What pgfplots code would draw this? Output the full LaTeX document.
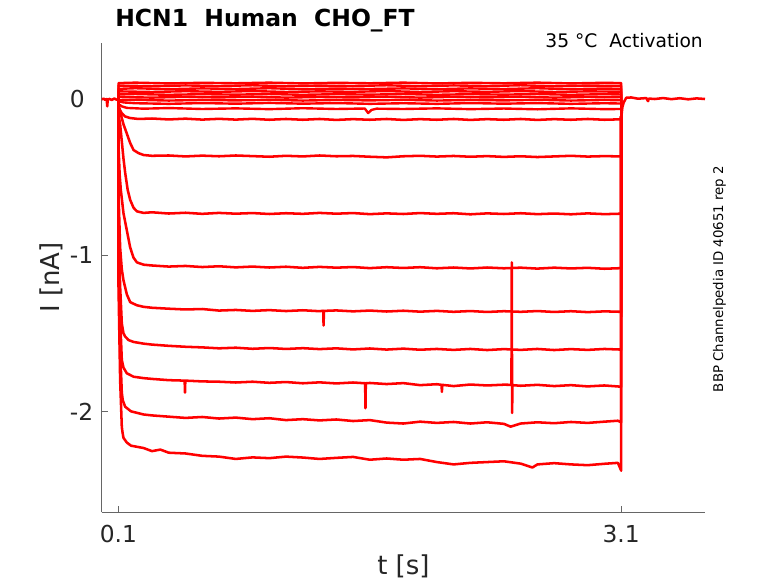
\documentclass[border=0pt]{standalone}
\usepackage{fontspec}
\setmainfont{DejaVu Sans}
\usepackage{pgfplots}
\pgfplotsset{compat=1.18}
\definecolor{axgray}{rgb}{0.4,0.4,0.4}
\definecolor{txtgray}{rgb}{0.15,0.15,0.15}
\begin{document}
\begin{tikzpicture}
\useasboundingbox (-76.275pt,-53.025pt) rectangle (507.225pt,384.225pt);
\begin{axis}[at={(0pt,0pt)}, anchor=south west, scale only axis,
 width=452.475pt, height=351.975pt,
 xmin=0, xmax=3.6, ymin=-2.647, ymax=0.361,
 axis x line*=bottom, axis y line*=left,
 axis line style={axgray, line width=0.6pt, -},
 tick align=inside, major tick length=4.7pt,
 tick style={axgray, line width=0.6pt},
 xtick={0.1,3.1}, xticklabels={0.1,3.1},
 ytick={-2,-1,0}, yticklabels={-2,-1,0},
 ticklabel style={font=\fontsize{17.5}{21}\selectfont, text=txtgray, inner sep=0pt},
 xticklabel style={anchor=base, yshift=-22.5pt},
 yticklabel style={anchor=west, xshift=-24pt},
 trace/.style={red, line width=1.9pt, line join=round},
 band/.style={red, line width=1.8pt, line join=round},
]
% baseline before step
\addplot[trace] coordinates {(0,0)(0.012,0.004)(0.02,-0.003)(0.03,0.002)(0.033,-0.045)(0.036,-0.004)(0.045,0.003)(0.06,-0.004)(0.075,0.005)(0.09,-0.003)(0.1,0)};
% tail after step
\addplot[trace] coordinates {(3.1003,-0.11)(3.103,-0.09)(3.107,-0.05)(3.115,-0.02)(3.13,0.01)(3.16,0.012)(3.2,0.004)(3.25,0.008)(3.26,-0.012)(3.265,0.005)(3.3,0.002)(3.35,0.008)(3.4,0.001)(3.45,0.007)(3.5,0)(3.55,0.006)(3.6,0.002)};
% upper band
\addplot[band] coordinates {(0.1,0)(0.1003,0.104)(0.2,0.107)(0.4,0.102)(0.6,0.106)(0.8,0.103)(1.0,0.107)(1.2,0.102)(1.4,0.106)(1.6,0.103)(1.8,0.107)(2.0,0.102)(2.2,0.106)(2.4,0.103)(2.6,0.107)(2.8,0.102)(3.0,0.106)(3.1,0.104)(3.1003,-0.11)};
\addplot[band] coordinates {(0.1,0)(0.1003,0.088)(0.3,0.084)(0.5,0.089)(0.7,0.085)(0.9,0.09)(1.1,0.084)(1.3,0.088)(1.5,0.085)(1.7,0.09)(1.9,0.084)(2.1,0.089)(2.3,0.085)(2.5,0.09)(2.7,0.084)(2.9,0.088)(3.1,0.086)(3.1003,-0.11)};
\addplot[band] coordinates {(0.1,0)(0.1003,0.067)(0.2,0.071)(0.4,0.065)(0.6,0.07)(0.8,0.066)(1.0,0.071)(1.2,0.065)(1.4,0.069)(1.6,0.066)(1.8,0.07)(2.0,0.065)(2.2,0.07)(2.4,0.066)(2.6,0.071)(2.8,0.065)(3.0,0.069)(3.1,0.067)(3.1003,-0.11)};
\addplot[band] coordinates {(0.1,0)(0.1003,0.051)(0.3,0.047)(0.5,0.052)(0.7,0.048)(0.9,0.053)(1.1,0.047)(1.3,0.051)(1.5,0.048)(1.7,0.053)(1.9,0.047)(2.1,0.052)(2.3,0.048)(2.5,0.053)(2.7,0.047)(2.9,0.051)(3.1,0.049)(3.1003,-0.11)};
\addplot[band] coordinates {(0.1,0)(0.1003,0.031)(0.2,0.034)(0.4,0.029)(0.6,0.033)(0.8,0.03)(1.0,0.034)(1.2,0.029)(1.4,0.033)(1.6,0.03)(1.8,0.034)(2.0,0.029)(2.2,0.033)(2.4,0.03)(2.6,0.034)(2.8,0.029)(3.0,0.033)(3.1,0.031)(3.1003,-0.11)};
\addplot[band] coordinates {(0.1,0)(0.1003,0.015)(0.3,0.011)(0.5,0.016)(0.7,0.012)(0.9,0.017)(1.1,0.011)(1.3,0.015)(1.5,0.012)(1.7,0.017)(1.9,0.011)(2.1,0.016)(2.3,0.012)(2.5,0.017)(2.7,0.011)(2.9,0.015)(3.1,0.013)(3.1003,-0.11)};
\addplot[band] coordinates {(0.1,0)(0.1003,-0.006)(0.2,-0.003)(0.4,-0.008)(0.6,-0.004)(0.8,-0.007)(1.0,-0.003)(1.2,-0.008)(1.4,-0.004)(1.6,-0.007)(1.8,-0.003)(2.0,-0.008)(2.2,-0.004)(2.4,-0.007)(2.6,-0.003)(2.8,-0.008)(3.0,-0.004)(3.1,-0.006)(3.1003,-0.11)};
\addplot[band] coordinates {(0.1,0)(0.1003,-0.012)(0.13,-0.02)(0.2,-0.025)(0.4,-0.029)(0.6,-0.024)(0.8,-0.028)(1.0,-0.023)(1.2,-0.028)(1.4,-0.024)(1.6,-0.029)(1.8,-0.025)(2.0,-0.029)(2.2,-0.024)(2.4,-0.028)(2.6,-0.024)(2.8,-0.029)(3.0,-0.025)(3.1,-0.027)(3.1003,-0.11)};
\addplot[band] coordinates {(0.1,0)(0.1003,-0.03)(0.12,-0.045)(0.15,-0.055)(0.25,-0.06)(0.4,-0.056)(0.6,-0.062)(0.8,-0.058)(1.0,-0.063)(1.2,-0.057)(1.4,-0.062)(1.57,-0.059)(1.59,-0.088)(1.61,-0.068)(1.64,-0.06)(1.8,-0.062)(2.0,-0.058)(2.2,-0.063)(2.4,-0.059)(2.6,-0.064)(2.8,-0.058)(3.0,-0.063)(3.1,-0.062)(3.1003,-0.11)};
\addplot[trace] coordinates {(0.1,0)(0.1003,-0.04)(0.11,-0.07)(0.12,-0.09)(0.14,-0.11)(0.17,-0.12)(0.22,-0.126)(0.3,-0.123)(0.4,-0.129)(0.5,-0.124)(0.6,-0.13)(0.7,-0.125)(0.8,-0.13)(0.9,-0.125)(1.0,-0.131)(1.1,-0.126)(1.2,-0.131)(1.3,-0.126)(1.4,-0.132)(1.5,-0.127)(1.6,-0.131)(1.7,-0.126)(1.8,-0.132)(1.9,-0.127)(2.0,-0.131)(2.1,-0.126)(2.2,-0.132)(2.3,-0.127)(2.4,-0.131)(2.5,-0.126)(2.6,-0.132)(2.7,-0.127)(2.8,-0.131)(2.9,-0.126)(3.0,-0.131)(3.1,-0.128)(3.1003,-0.11)};
% activating traces
\addplot[trace] coordinates {(0.1,0)(0.1003,-0.05)(0.11,-0.08)(0.13,-0.16)(0.15,-0.22)(0.17,-0.28)(0.19,-0.325)(0.22,-0.345)(0.25,-0.357)(0.3,-0.362)(0.4,-0.36)(0.5,-0.366)(0.6,-0.361)(0.7,-0.365)(0.8,-0.36)(0.9,-0.364)(1.0,-0.368)(1.1,-0.362)(1.2,-0.366)(1.3,-0.36)(1.4,-0.365)(1.5,-0.363)(1.6,-0.368)(1.7,-0.372)(1.8,-0.365)(1.9,-0.362)(2.0,-0.367)(2.1,-0.363)(2.2,-0.368)(2.3,-0.364)(2.4,-0.369)(2.5,-0.365)(2.6,-0.37)(2.7,-0.366)(2.8,-0.362)(2.9,-0.367)(3.0,-0.364)(3.1,-0.366)(3.1003,-0.11)};
\addplot[trace] coordinates {(0.1,0)(0.1003,-0.1)(0.11,-0.16)(0.12,-0.27)(0.13,-0.38)(0.14,-0.47)(0.155,-0.58)(0.17,-0.645)(0.19,-0.695)(0.21,-0.718)(0.25,-0.728)(0.3,-0.724)(0.4,-0.732)(0.5,-0.727)(0.6,-0.734)(0.7,-0.728)(0.8,-0.733)(0.9,-0.729)(1.0,-0.735)(1.1,-0.73)(1.2,-0.734)(1.3,-0.728)(1.4,-0.733)(1.5,-0.729)(1.6,-0.736)(1.7,-0.731)(1.8,-0.735)(1.9,-0.729)(2.0,-0.734)(2.1,-0.73)(2.2,-0.737)(2.3,-0.731)(2.4,-0.735)(2.5,-0.73)(2.6,-0.736)(2.7,-0.732)(2.8,-0.737)(2.9,-0.731)(3.0,-0.736)(3.1,-0.733)(3.1003,-0.11)};
\addplot[trace] coordinates {(0.1,0)(0.1003,-0.3)(0.107,-0.48)(0.114,-0.58)(0.13,-0.73)(0.15,-0.84)(0.17,-0.95)(0.19,-1.015)(0.21,-1.045)(0.25,-1.06)(0.3,-1.065)(0.4,-1.072)(0.5,-1.068)(0.6,-1.075)(0.7,-1.07)(0.8,-1.077)(0.9,-1.072)(1.0,-1.078)(1.1,-1.073)(1.2,-1.08)(1.3,-1.074)(1.4,-1.079)(1.5,-1.075)(1.6,-1.082)(1.7,-1.076)(1.8,-1.081)(1.9,-1.076)(2.0,-1.083)(2.1,-1.078)(2.2,-1.084)(2.3,-1.078)(2.4,-1.083)(2.5,-1.079)(2.6,-1.085)(2.7,-1.079)(2.8,-1.084)(2.9,-1.08)(3.0,-1.086)(3.1,-1.082)(3.1003,-0.11)};
\addplot[trace] coordinates {(0.1,0)(0.1003,-0.6)(0.11,-0.95)(0.12,-1.09)(0.13,-1.16)(0.15,-1.25)(0.17,-1.3)(0.21,-1.32)(0.25,-1.33)(0.3,-1.336)(0.4,-1.342)(0.5,-1.347)(0.6,-1.344)(0.7,-1.354)(0.8,-1.35)(0.9,-1.356)(1.0,-1.351)(1.1,-1.357)(1.2,-1.352)(1.3,-1.358)(1.322,-1.355)(1.324,-1.45)(1.326,-1.356)(1.4,-1.353)(1.5,-1.359)(1.6,-1.354)(1.7,-1.36)(1.8,-1.355)(1.9,-1.361)(2.0,-1.356)(2.1,-1.362)(2.2,-1.357)(2.3,-1.363)(2.4,-1.358)(2.5,-1.362)(2.6,-1.357)(2.7,-1.363)(2.8,-1.358)(2.9,-1.364)(3.0,-1.359)(3.1,-1.362)(3.1003,-0.11)};
\addplot[trace] coordinates {(0.1,0)(0.1003,-0.8)(0.11,-1.2)(0.12,-1.436)(0.13,-1.5)(0.14,-1.52)(0.16,-1.543)(0.19,-1.555)(0.25,-1.566)(0.3,-1.572)(0.4,-1.58)(0.5,-1.586)(0.6,-1.59)(0.7,-1.596)(0.8,-1.592)(0.9,-1.599)(1.0,-1.594)(1.1,-1.6)(1.2,-1.595)(1.3,-1.601)(1.4,-1.596)(1.5,-1.603)(1.6,-1.597)(1.7,-1.604)(1.8,-1.598)(1.9,-1.605)(2.0,-1.6)(2.1,-1.606)(2.2,-1.6)(2.3,-1.607)(2.4,-1.601)(2.5,-1.606)(2.6,-1.6)(2.7,-1.607)(2.8,-1.601)(2.9,-1.606)(3.0,-1.6)(3.1,-1.604)(3.1003,-0.11)};
\addplot[trace] coordinates {(0.1,0)(0.1003,-0.9)(0.11,-1.4)(0.12,-1.67)(0.13,-1.72)(0.15,-1.756)(0.19,-1.778)(0.25,-1.787)(0.3,-1.792)(0.4,-1.8)(0.495,-1.803)(0.497,-1.88)(0.499,-1.803)(0.6,-1.808)(0.7,-1.81)(0.8,-1.815)(0.9,-1.81)(1.0,-1.817)(1.1,-1.812)(1.2,-1.82)(1.3,-1.814)(1.4,-1.821)(1.5,-1.815)(1.572,-1.82)(1.574,-1.98)(1.576,-1.82)(1.6,-1.818)(1.7,-1.825)(1.8,-1.819)(1.9,-1.832)(2.0,-1.826)(2.028,-1.83)(2.03,-1.875)(2.032,-1.83)(2.1,-1.838)(2.2,-1.828)(2.3,-1.834)(2.4,-1.829)(2.445,-1.83)(2.447,-1.045)(2.449,-2.01)(2.451,-1.832)(2.5,-1.836)(2.6,-1.83)(2.7,-1.838)(2.8,-1.832)(2.9,-1.84)(3.0,-1.834)(3.1,-1.842)(3.1003,-0.11)};
\addplot[trace] coordinates {(0.1,0)(0.1003,-1.0)(0.11,-1.6)(0.12,-1.88)(0.126,-1.93)(0.14,-1.97)(0.175,-2.0)(0.25,-2.02)(0.3,-2.026)(0.4,-2.034)(0.5,-2.042)(0.6,-2.036)(0.7,-2.046)(0.8,-2.04)(0.9,-2.05)(1.0,-2.044)(1.1,-2.056)(1.2,-2.05)(1.3,-2.058)(1.4,-2.052)(1.5,-2.062)(1.6,-2.056)(1.7,-2.072)(1.8,-2.078)(1.9,-2.066)(2.0,-2.074)(2.1,-2.068)(2.2,-2.078)(2.3,-2.07)(2.4,-2.08)(2.44,-2.098)(2.5,-2.078)(2.6,-2.07)(2.7,-2.076)(2.8,-2.068)(2.9,-2.074)(3.0,-2.066)(3.08,-2.06)(3.1,-2.07)(3.1003,-0.11)};
\addplot[trace] coordinates {(0.1,0)(0.1003,-1.2)(0.11,-1.8)(0.12,-2.1)(0.125,-2.14)(0.13,-2.17)(0.15,-2.2)(0.175,-2.22)(0.2,-2.225)(0.25,-2.235)(0.3,-2.255)(0.35,-2.245)(0.4,-2.265)(0.5,-2.27)(0.6,-2.285)(0.7,-2.29)(0.8,-2.305)(0.9,-2.295)(1.0,-2.3)(1.1,-2.29)(1.2,-2.296)(1.3,-2.305)(1.4,-2.298)(1.5,-2.292)(1.6,-2.31)(1.7,-2.302)(1.8,-2.31)(1.9,-2.305)(2.0,-2.325)(2.1,-2.34)(2.2,-2.33)(2.3,-2.325)(2.4,-2.32)(2.5,-2.335)(2.57,-2.36)(2.6,-2.34)(2.7,-2.332)(2.8,-2.34)(2.9,-2.345)(3.0,-2.336)(3.08,-2.33)(3.1,-2.38)(3.1003,-0.11)};
\end{axis}
\node[anchor=base west, inner sep=0pt, font=\bfseries\fontsize{17.6}{21}\selectfont] at (10pt,364.2pt) {HCN1~~Human~~CHO\_FT};
\node[anchor=base east, inner sep=0pt, font=\fontsize{14}{17}\selectfont] at (451pt,348.75pt) {35 °C~~Activation};
\node[rotate=90, anchor=base, inner sep=0pt, font=\fontsize{10}{12}\selectfont] at (466pt,175pt) {BBP Channelpedia ID 40651 rep 2};
\node[rotate=90, anchor=base, inner sep=0pt, text=txtgray, font=\fontsize{19.5}{23}\selectfont] at (-32pt,176.1pt) {I [nA]};
\node[anchor=base, inner sep=0pt, text=txtgray, font=\fontsize{19.5}{23}\selectfont] at (226.3pt,-46.3pt) {t [s]};
\end{tikzpicture}
\end{document}
